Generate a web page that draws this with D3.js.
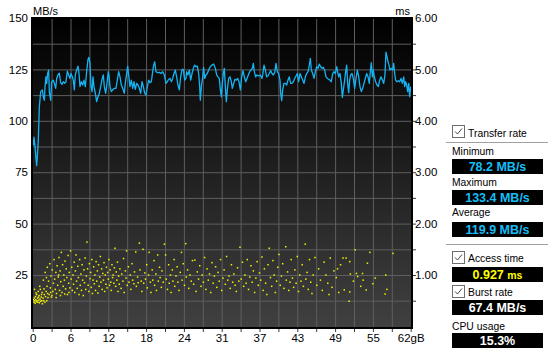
<!DOCTYPE html>
<html><head><meta charset="utf-8">
<script src="https://cdn.jsdelivr.net/npm/d3@7"></script>
<style>
body{margin:0;background:#fff;}
svg{display:block;font-family:"Liberation Sans",Arial,sans-serif;}
</style>
</head><body>
<svg id="c" width="548" height="356"></svg>
<script>
// ---- Transfer rate (GB position, MB/s) ----
const transferGB = [0.10,0.21,0.38,0.54,0.65,0.76,0.92,1.09,1.31,1.58,1.74,1.91,2.02,2.18,2.29,2.46,2.62,2.73,2.95,3.11,3.38,3.55,3.77,3.93,4.20,4.37,4.59,4.81,5.02,5.24,5.46,5.68,5.90,6.12,6.28,6.50,6.66,6.83,6.99,7.21,7.43,7.59,7.76,7.98,8.20,8.41,8.63,8.85,9.07,9.23,9.40,9.56,9.73,9.89,10.05,10.27,10.49,10.71,10.93,11.15,11.37,11.58,11.75,11.97,12.19,12.40,12.57,
12.68,12.90,13.12,13.39,13.66,13.88,14.10,14.32,14.54,14.76,15.03,15.19,15.41,15.58,15.74,15.96,16.18,16.40,16.62,16.83,17.05,17.27,17.49,17.71,17.93,18.15,18.37,18.58,18.80,19.02,19.24,19.46,19.68,19.84,20.01,20.22,20.50,20.77,21.04,21.32,21.59,21.86,22.08,22.30,22.52,22.74,22.96,23.18,23.39,23.61,23.83,24.05,24.27,24.49,24.71,24.93,25.14,
25.25,25.47,25.69,25.91,26.13,26.35,26.57,26.78,27.00,27.22,27.39,27.49,27.66,27.88,28.04,28.21,28.42,28.64,28.86,29.13,29.41,29.68,29.96,30.17,30.39,30.61,30.78,30.94,31.10,31.27,31.43,31.60,31.76,31.92,32.14,32.36,32.58,32.74,32.96,33.18,33.40,33.62,33.84,34.06,34.28,34.49,34.71,34.93,35.15,35.37,35.59,35.81,36.02,36.19,36.35,36.57,36.79,37.06,37.34,37.61,
37.72,37.94,38.16,38.38,38.59,38.81,39.03,39.25,39.47,39.69,39.91,40.12,40.34,40.56,40.67,40.84,41.00,41.22,41.44,41.66,41.87,42.09,42.31,42.53,42.75,42.97,43.19,43.40,43.62,43.84,44.06,44.28,44.50,44.72,44.94,45.16,45.37,45.54,45.70,45.92,46.14,46.36,46.58,46.80,47.01,47.23,47.45,47.67,47.89,48.11,48.33,48.54,48.76,48.98,49.20,49.42,49.64,49.86,50.08,
50.19,50.40,50.62,50.79,50.95,51.17,51.33,51.50,51.66,51.83,51.99,52.15,52.37,52.59,52.81,53.03,53.25,53.47,53.68,53.90,54.12,54.34,54.56,54.78,55.00,55.21,55.38,55.54,55.71,55.87,56.03,56.25,56.47,56.69,56.91,57.13,57.35,57.57,57.78,57.95,58.11,58.28,58.44,58.60,58.82,59.04,59.21,59.37,59.53,59.75,59.97,60.19,60.41,60.63,60.85,61.01,61.17,61.34,61.50,61.67,61.83,62.00];
const transferMBs = [88.0,92.0,87.4,81.8,78.2,82.5,90.7,106.9,114.2,115.0,111.7,110.0,116.6,121.5,118.2,123.1,124.7,114.0,110.0,119.0,119.8,118.2,115.8,120.6,122.6,123.1,118.5,117.7,119.0,118.2,119.0,124.2,122.3,120.6,123.0,121.4,119.8,115.0,122.3,124.7,126.6,123.0,116.6,119.0,117.4,119.8,116.6,123.9,129.9,130.9,127.9,116.6,114.2,121.4,116.6,113.4,109.3,111.7,113.4,116.6,120.2,122.3,116.6,113.4,118.2,123.9,120.6,
116.6,114.2,115.0,115.8,115.8,119.8,123.9,121.4,117.4,115.8,113.4,118.2,123.0,126.6,122.3,116.6,119.8,115.8,119.0,115.3,118.2,117.4,115.8,113.4,119.0,116.6,113.4,112.5,116.6,119.8,118.5,119.0,123.9,127.1,128.7,123.9,123.4,123.6,123.0,123.9,122.3,118.2,119.0,120.2,120.6,119.0,120.6,123.0,124.7,121.4,117.4,115.0,121.4,125.0,125.0,119.8,120.6,
123.9,122.3,124.7,119.8,123.0,125.5,127.1,126.3,126.6,123.0,116.6,110.0,116.6,121.4,126.0,120.6,122.3,123.0,124.7,126.3,127.1,127.6,125.5,122.3,121.4,120.6,115.0,111.7,118.2,123.0,125.5,116.6,109.3,115.0,120.6,121.4,119.0,115.8,118.2,120.2,119.8,120.6,119.0,115.0,121.4,124.4,121.4,119.0,120.6,122.3,123.9,124.7,125.5,127.9,123.9,121.4,122.3,121.8,122.3,120.6,
122.3,127.1,124.7,121.4,121.8,123.0,124.4,123.0,122.3,123.4,127.9,123.9,123.0,119.8,113.4,109.8,115.0,118.2,118.2,117.4,119.8,121.4,118.2,118.2,119.0,120.6,121.8,123.0,119.0,123.0,121.4,119.8,118.2,121.4,123.0,123.9,127.1,130.4,124.7,123.0,120.6,123.9,126.3,125.5,127.6,126.3,125.5,126.0,124.7,121.4,120.6,120.2,119.8,119.0,123.0,123.9,123.0,126.3,123.0,
121.4,123.0,118.2,111.4,115.0,119.8,123.9,127.1,118.2,113.7,119.8,122.3,123.0,120.6,115.8,120.6,124.7,121.4,116.6,114.2,115.8,118.2,120.6,123.0,121.4,118.2,123.9,128.3,121.4,124.7,121.4,119.0,117.4,116.6,119.8,121.4,119.8,118.2,122.3,133.4,131.2,128.7,127.1,124.7,125.5,124.7,127.9,123.0,119.8,119.0,119.4,119.0,120.6,118.2,121.4,116.6,119.0,117.4,114.2,118.2,111.7,116.6];

// ---- Access time samples [GB position, ms] ----
const accessPts = [
[0.1,0.52],[0.2,0.47],[0.25,0.55],[0.3,0.5],[0.4,0.45],[0.45,0.58],[0.5,0.52],[0.6,0.48],[0.65,0.62],[0.7,0.5],[0.8,0.55],[0.85,0.47],[0.9,0.68],[1.0,0.51],[1.05,0.6],[1.1,0.46],[1.2,0.53],[1.25,0.72],[1.3,0.49],[1.4,0.57],[1.5,0.5],[1.55,0.66],[1.6,0.44],[1.7,0.55],[1.75,0.9],[1.8,0.5],[1.9,0.62],[2.0,0.47],[2.05,1.05],[2.1,0.58],[2.2,0.68],[2.3,0.5],[2.35,0.78],[2.4,1.15],[2.5,0.56],[0.3,0.72],[0.55,0.65],[0.95,0.57],[1.15,0.78],[1.45,0.62],[1.85,0.73],[2.25,0.95],[2.45,0.64],
[2.6,0.88],[2.7,0.62],[2.8,1.22],[2.9,0.75],[3.0,0.98],[3.05,0.57],[3.2,1.1],[3.3,0.68],[3.4,0.84],[3.5,1.3],[3.6,0.92],[3.7,0.72],[3.8,1.05],[3.9,0.64],[4.0,1.18],[4.1,0.8],[4.2,0.96],[4.3,1.34],[4.4,0.7],[4.5,1.08],[4.6,0.87],[4.7,1.44],[4.8,0.66],[4.9,1.2],[5.0,0.78],[5.1,1.0],[5.2,0.9],[5.3,1.27],[5.4,0.73],[5.5,1.12],[5.6,0.95],[5.7,0.62],[5.8,1.38],[5.9,0.84],[6.0,1.05],[6.1,0.75],[6.2,1.47],[6.3,0.92],[3.15,0.6],[3.85,0.56],[4.55,0.6],[5.25,0.63],[5.95,0.66],[4.25,1.0],[2.95,0.66],
[6.4,1.15],[6.5,0.7],[6.6,1.0],[6.7,0.82],[6.8,1.25],[6.9,0.66],[7.0,1.08],[7.1,1.39],[7.2,0.88],[7.3,0.74],[7.4,1.17],[7.5,0.95],[7.6,0.62],[7.7,1.3],[7.8,0.8],[7.9,1.02],[8.0,0.7],[8.1,1.2],[8.2,0.9],[8.3,0.6],[8.4,1.1],[8.5,0.85],[8.6,1.33],[8.7,0.72],[8.8,0.98],[8.9,1.64],[9.0,1.12],[9.1,0.8],[9.2,0.68],[9.3,1.22],[9.4,0.93],[9.5,1.05],[9.6,0.76],[9.7,1.3],[9.8,0.64],[9.9,0.9],[10.0,1.16],[10.1,0.83],[10.2,1.0],[10.3,0.7],[10.4,1.26],[10.5,0.88],[10.6,1.08],[10.7,0.65],[10.8,1.2],[10.9,0.78],[11.0,0.96],[11.1,1.36],[11.2,0.86],[11.3,1.12],[11.4,0.72],[11.5,1.03],[11.6,0.9],[11.7,1.24],[11.8,0.68],[11.9,1.0],[12.0,0.82],[12.1,1.15],
[12.2,0.75],[12.3,1.05],[12.4,0.92],[12.5,1.3],[12.6,0.8],[12.7,1.1],[12.8,0.86],[12.9,0.7],[13.0,1.2],[13.1,0.95],[13.2,1.0],[13.3,0.84],[13.4,1.14],[13.5,1.52],[13.6,0.78],[13.7,1.06],[13.8,0.9],[13.9,1.25],[14.0,0.68],[14.1,0.98],[14.2,0.82],[14.3,1.12],[14.5,0.74],[14.6,1.02],[14.8,0.88],[14.9,1.32],[15.0,0.66],[15.2,1.08],[15.3,0.94],[15.4,1.47],[15.5,0.8],[15.7,1.16],[15.8,0.86],[16.0,1.0],[16.1,0.72],[16.3,1.22],[16.4,0.9],[16.6,0.83],[16.7,1.06],[16.9,1.45],[17.0,0.78],[17.2,0.96],[17.3,0.85],[17.5,1.62],[17.6,1.1],[17.8,0.88],[17.9,0.68],[18.1,1.5],[18.2,0.84],[18.4,1.04],[18.5,0.92],[18.7,1.2],[18.8,0.75],[19.0,1.0],[19.1,1.44],[19.3,0.86],[19.4,0.66],[19.6,1.1],[19.7,0.9],[19.9,1.28],[20.0,0.8],[20.2,1.02],[20.3,0.7],[20.5,1.39],[20.6,0.88],[20.8,1.15],[20.9,0.95],[21.1,0.76],[21.2,1.08],[21.4,0.86],[21.6,1.6],[21.8,1.39],[21.9,0.92],[22.1,0.72],[22.3,1.2],[22.4,0.84],[22.6,1.0],[22.7,0.66],[22.9,1.1],[23.0,0.88],[23.2,1.3],[23.3,0.78],[23.5,0.98],[23.7,1.16],[23.8,0.86],[24.0,0.7],[24.2,1.05],[24.4,1.44],[24.5,0.9],
[24.7,1.22],[24.9,0.8],[25.1,1.61],[25.2,0.96],[25.4,1.1],[25.6,0.74],[25.8,1.0],[26.0,0.88],[26.2,1.28],[26.4,0.82],[26.6,1.29],[26.8,0.68],[27.0,1.06],[27.2,0.92],[27.4,1.18],[27.6,0.78],[27.8,1.0],[28.0,0.86],[28.2,1.34],[28.4,0.72],[28.6,1.12],[28.8,0.9],[29.0,1.02],[29.2,0.66],[29.4,1.24],[29.6,0.84],[29.8,0.98],[30.0,1.16],[30.2,0.76],[30.4,1.05],[30.6,0.88],[30.8,1.3],[31.0,0.7],[31.2,0.94],[31.4,1.1],[31.6,0.82],[31.8,1.36],[32.0,0.9],[32.2,0.98],[32.4,0.74],[32.6,1.2],[32.8,0.86],[33.0,1.02],[33.2,0.8],[33.4,0.68],[33.6,1.14],[33.8,0.88],[34.0,1.54],[34.2,0.92],[34.4,1.25],[34.6,0.78],[34.8,1.0],[35.0,0.84],[35.2,1.3],[35.4,0.72],[35.6,0.96],[35.8,1.18],[36.0,0.86],[36.2,1.08],[36.4,0.66],[36.6,0.94],[36.8,1.26],[37.0,0.8],
[37.2,1.04],[37.4,0.9],[37.6,1.35],[37.8,0.7],[38.0,1.12],[38.2,0.84],[38.4,0.62],[38.6,1.2],[38.8,1.52],[39.0,0.95],[39.2,0.78],[39.4,1.28],[39.6,1.0],[39.8,0.66],[40.0,0.88],[40.2,1.15],[40.4,1.4],[40.6,0.8],[40.8,0.98],[41.0,1.22],[41.2,0.74],[41.5,1.55],[41.6,0.9],[41.8,1.06],[42.0,0.7],[42.2,0.86],[42.4,1.3],[42.6,0.94],[42.8,0.76],[43.0,1.1],[43.2,0.84],[43.4,1.36],[43.6,0.68],[43.8,1.0],[44.0,0.88],[44.2,1.2],[44.4,0.78],[44.7,1.6],[44.8,0.92],[45.0,1.05],[45.2,0.72],[45.4,1.3],[45.6,0.86],[45.8,0.64],[46.0,1.0],[46.3,1.34],[46.6,0.8],[46.9,1.12],[47.2,0.9],[47.5,0.7],[47.8,1.25],
[48.1,1.0],[48.4,0.84],[48.8,1.33],[49.1,0.76],[49.4,1.08],[49.8,0.95],[50.2,0.66],[50.5,1.2],[50.9,1.33],[51.1,0.71],[51.4,1.33],[51.9,0.49],[52.0,1.26],[52.1,1.02],[52.0,0.67],[52.6,0.88],[52.9,1.49],[53.1,1.03],[53.3,0.97],[53.8,0.78],[54.1,1.03],[54.2,0.9],[54.7,0.71],[54.9,1.23],[55.3,1.44],[55.8,0.83],[56.2,0.94],[57.8,0.63],[57.9,1.0],[58.1,0.72],[59.1,1.42],[50.0,1.12],[48.6,0.62]
];

// ---- Axis ticks ----
const xTickValues = [0,6.2,12.4,18.6,24.8,31,37.2,43.4,49.6,55.8,62];
const xTickLabels = ["0","6","12","18","24","31","37","43","49","55","62gB"];
const leftTickValues = [150,125,100,75,50,25];
const rightTickValues = [6,5,4,3,2,1];
const rightTickLabels = ["6.00","5.00","4.00","3.00","2.00","1.00"];

// ---- Side panel ----
const statLabels = ["Minimum","Maximum","Average"];
const statValues = ["78.2 MB/s","133.4 MB/s","119.9 MB/s"];
const accessValue = "0.927", accessUnit = "ms";
const burstValue = "67.4 MB/s";
const cpuValue = "15.3%";

const svg = d3.select("#c");
const X0 = 32.7, X1 = 410.7, Y0 = 326.4, Y1 = 18;
const x = d3.scaleLinear().domain([0,62]).range([X0,X1]);
const y = d3.scaleLinear().domain([0,150]).range([Y0,Y1]);
const yms = d3.scaleLinear().domain([0,6]).range([Y0,Y1]);

const defs = svg.append("defs");
const g = defs.append("linearGradient").attr("id","bg").attr("x1",0).attr("y1",0).attr("x2",0).attr("y2",1);
g.append("stop").attr("offset","0%").attr("stop-color","#000");
g.append("stop").attr("offset","100%").attr("stop-color","#404040");
defs.append("clipPath").attr("id","clip").append("rect").attr("x",33).attr("y",19).attr("width",378).attr("height",308);

// frame
svg.append("rect").attr("x",31).attr("y",17).attr("width",382).attr("height",312).attr("fill","#000");
svg.append("rect").attr("x",33).attr("y",19).attr("width",378).attr("height",308).attr("fill","url(#bg)");

// grid
const gridX = d3.range(1,20).map(i => i*3.1);
const gridY = d3.range(1,12).map(i => i*12.5);
const gx = svg.append("g").attr("transform","translate(0,327)")
  .call(d3.axisBottom(x).tickValues(gridX).tickSize(-308).tickFormat(""));
gx.select(".domain").remove();
gx.selectAll("line").attr("stroke","#5e5e5e");
const gy = svg.append("g").attr("transform","translate(33,0)")
  .call(d3.axisLeft(y).tickValues(gridY).tickSize(-378).tickFormat(""));
gy.select(".domain").remove();
gy.selectAll("line").attr("stroke","#5e5e5e");

// outer small ticks
const tb = svg.append("g").attr("transform","translate(0,329)")
  .call(d3.axisBottom(x).tickValues(d3.range(0,21).map(i=>i*3.1)).tickSize(3).tickFormat(""));
tb.select(".domain").remove(); tb.selectAll("line").attr("stroke","#3a3a3a");
const tr = svg.append("g").attr("transform","translate(413,0)")
  .call(d3.axisRight(y).tickValues(gridY).tickSize(3).tickFormat(""));
tr.select(".domain").remove(); tr.selectAll("line").attr("stroke","#3a3a3a");

// axis labels
const ax = svg.append("g").attr("transform","translate(0,329)")
  .call(d3.axisBottom(x).tickValues(xTickValues).tickSize(0).tickPadding(4.5).tickFormat((d,i)=>xTickLabels[i]));
ax.select(".domain").remove();
ax.selectAll("text").attr("font-size",11.5).attr("font-family","Liberation Sans, Arial").attr("fill","#000");

const al = svg.append("g").attr("transform","translate(28,0)")
  .call(d3.axisLeft(y).tickValues(leftTickValues).tickSize(0).tickPadding(0).tickFormat(d=>d));
al.select(".domain").remove();
al.selectAll("text").attr("font-size",11.5).attr("font-family","Liberation Sans, Arial").attr("fill","#000");

const ar = svg.append("g").attr("transform","translate(415,0)")
  .call(d3.axisRight(yms).tickValues(rightTickValues).tickSize(0).tickPadding(0).tickFormat((d,i)=>rightTickLabels[i]));
ar.select(".domain").remove();
ar.selectAll("text").attr("font-size",11.5).attr("font-family","Liberation Sans, Arial").attr("fill","#000");

svg.append("text").attr("x",33).attr("y",15).attr("font-size",11).text("MB/s");
svg.append("text").attr("x",410).attr("y",15).attr("font-size",11).attr("text-anchor","end").text("ms");

// access time dots
const plot = svg.append("g").attr("clip-path","url(#clip)");
plot.selectAll("rect.dot").data(accessPts).join("rect").attr("class","dot")
  .attr("x",d=>x(d[0])-0.75).attr("y",d=>yms(d[1])-0.75).attr("width",1.5).attr("height",1.5)
  .attr("fill","#f2f200");

// transfer line
const tdata = transferGB.map((v,i)=>[v, transferMBs[i]]);
plot.append("path").datum(tdata)
  .attr("fill","none").attr("stroke","#14b4f4").attr("stroke-width",1.3).attr("stroke-linejoin","round")
  .attr("d", d3.line().x(d=>x(d[0])).y(d=>y(d[1])));

// ---- side panel ----
const P = svg.append("g");
function ptext(px, py, str, size, opt={}) {
  const t = P.append("text").attr("transform",`translate(${px},${py}) scale(${opt.sx||0.9},1)`)
    .attr("font-size",size).attr("fill",opt.fill||"#000").text(str);
  if (opt.bold) t.attr("font-weight","bold");
  if (opt.anchor) t.attr("text-anchor",opt.anchor);
  return t;
}
function checkbox(cx, cy) {
  P.append("rect").attr("x",cx+0.5).attr("y",cy+0.5).attr("width",12).attr("height",12).attr("fill","#fff").attr("stroke","#6e6e6e");
  P.append("path").attr("d",`M${cx+3},${cy+6.5} L${cx+5.5},${cy+9} L${cx+10},${cy+3.5}`).attr("fill","none").attr("stroke","#444").attr("stroke-width",1);
}
function valbox(by, parts) {
  P.append("rect").attr("x",452).attr("y",by).attr("width",91).attr("height",15).attr("fill","#000");
  const t = P.append("text").attr("x",497.5).attr("y",by+12).attr("text-anchor","middle").attr("font-weight","bold");
  parts.forEach(p => t.append("tspan").attr("font-size",p.size).attr("fill",p.fill).text(p.text));
}
function sep(sy) {
  P.append("line").attr("x1",446).attr("x2",548).attr("y1",sy+0.5).attr("y2",sy+0.5).attr("stroke","#a0a0a0");
  P.append("line").attr("x1",446).attr("x2",548).attr("y1",sy+1.5).attr("y2",sy+1.5).attr("stroke","#fff");
}
checkbox(452,125);
ptext(468,137,"Transfer rate",11.5);
sep(142);
const statY = [154.5,185.5,216];
const boxY = [159,190,222];
statLabels.forEach((s,i)=>{
  ptext(452,statY[i],s,11.5);
  valbox(boxY[i],[{text:statValues[i],size:12.5,fill:"#16bdf5"}]);
});
sep(244);
checkbox(452,251);
ptext(468,262,"Access time",11.5);
valbox(267,[{text:accessValue+" ",size:12.5,fill:"#ffff00"},{text:accessUnit,size:10.5,fill:"#ffff00"}]);
checkbox(452,285);
ptext(468,296,"Burst rate",11.5);
valbox(300,[{text:burstValue,size:12.5,fill:"#fff"}]);
ptext(452,330,"CPU usage",11.5);
valbox(333,[{text:cpuValue,size:12.5,fill:"#fff"}]);
</script>
</body></html>
